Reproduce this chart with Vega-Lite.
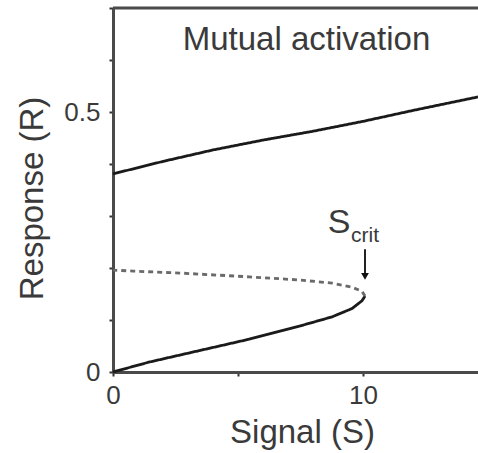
{
  "$schema": "https://vega.github.io/schema/vega-lite/v6.json",
  "width": 365,
  "height": 364,
  "autosize": {"type": "none"},
  "padding": {"left": 113, "top": 8, "right": 0, "bottom": 81},
  "background": "white",
  "config": {
    "view": {"stroke": null},
    "font": "Liberation Sans",
    "axis": {
      "grid": false,
      "domainColor": "#4a4a4a",
      "domainWidth": 3,
      "tickColor": "#333333",
      "tickSize": 4,
      "tickWidth": 2,
      "labelFont": "Liberation Sans",
      "labelFontSize": 26,
      "labelColor": "#3a3a3a",
      "titleFont": "Liberation Sans",
      "titleFontSize": 33,
      "titleFontWeight": "normal",
      "titleColor": "#3a3a3a"
    }
  },
  "datasets": {
    "curves": [
      {"branch": "lower", "style": "solid", "i": 0, "S": 0, "R": 0},
      {"branch": "lower", "style": "solid", "i": 1, "S": 1.44, "R": 0.019},
      {"branch": "lower", "style": "solid", "i": 2, "S": 3.44, "R": 0.041},
      {"branch": "lower", "style": "solid", "i": 3, "S": 5.44, "R": 0.063},
      {"branch": "lower", "style": "solid", "i": 4, "S": 7.44, "R": 0.088},
      {"branch": "lower", "style": "solid", "i": 5, "S": 8.76, "R": 0.106},
      {"branch": "lower", "style": "solid", "i": 6, "S": 9.56, "R": 0.122},
      {"branch": "lower", "style": "solid", "i": 7, "S": 9.96, "R": 0.137},
      {"branch": "lower", "style": "solid", "i": 8, "S": 10.08, "R": 0.146},
      {"branch": "unstable", "style": "dashed", "i": 0, "S": 10.08, "R": 0.146},
      {"branch": "unstable", "style": "dashed", "i": 1, "S": 9.96, "R": 0.155},
      {"branch": "unstable", "style": "dashed", "i": 2, "S": 9.56, "R": 0.163},
      {"branch": "unstable", "style": "dashed", "i": 3, "S": 8.76, "R": 0.171},
      {"branch": "unstable", "style": "dashed", "i": 4, "S": 7.44, "R": 0.177},
      {"branch": "unstable", "style": "dashed", "i": 5, "S": 5.44, "R": 0.183},
      {"branch": "unstable", "style": "dashed", "i": 6, "S": 2.8, "R": 0.19},
      {"branch": "unstable", "style": "dashed", "i": 7, "S": 0.8, "R": 0.194},
      {"branch": "unstable", "style": "dashed", "i": 8, "S": 0, "R": 0.196},
      {"branch": "upper", "style": "solid", "i": 0, "S": 0, "R": 0.381},
      {"branch": "upper", "style": "solid", "i": 1, "S": 2, "R": 0.405},
      {"branch": "upper", "style": "solid", "i": 2, "S": 4, "R": 0.427},
      {"branch": "upper", "style": "solid", "i": 3, "S": 6, "R": 0.446},
      {"branch": "upper", "style": "solid", "i": 4, "S": 8, "R": 0.463},
      {"branch": "upper", "style": "solid", "i": 5, "S": 10, "R": 0.482},
      {"branch": "upper", "style": "solid", "i": 6, "S": 12, "R": 0.503},
      {"branch": "upper", "style": "solid", "i": 7, "S": 14, "R": 0.523},
      {"branch": "upper", "style": "solid", "i": 8, "S": 14.6, "R": 0.529}
    ]
  },
  "layer": [
    {
      "data": {"name": "curves"},
      "mark": {"type": "line", "strokeWidth": 2.8},
      "encoding": {
        "x": {
          "field": "S", "type": "quantitative",
          "scale": {"domain": [0, 14.6], "nice": false, "zero": false},
          "axis": {
            "title": "Signal (S)",
            "values": [0, 5, 10],
            "labelExpr": "datum.value == 5 ? '' : datum.label",
            "labelFlush": false,
            "labelPadding": 6,
            "titlePadding": 8,
            "titleX": 189
          }
        },
        "y": {
          "field": "R", "type": "quantitative",
          "scale": {"domain": [0, 0.7], "nice": false},
          "axis": {
            "title": "Response (R)",
            "values": [0, 0.1, 0.2, 0.3, 0.4, 0.5, 0.6, 0.7],
            "format": ".1~f",
            "labelExpr": "(datum.value == 0 || datum.value == 0.5) ? datum.label : ''",
            "labelFlush": false,
            "labelPadding": 9,
            "titlePadding": 14,
            "titleY": 190
          }
        },
        "detail": {"field": "branch"},
        "order": {"field": "i", "type": "quantitative"},
        "strokeDash": {
          "field": "style", "type": "nominal",
          "scale": {"domain": ["solid", "dashed"], "range": [[1, 0], [5, 4]]},
          "legend": null
        },
        "color": {
          "field": "style", "type": "nominal",
          "scale": {"domain": ["solid", "dashed"], "range": ["#1a1a1a", "#6a6a6a"]},
          "legend": null
        }
      }
    },
    {
      "data": {"values": [{"R": 0.7}]},
      "mark": {"type": "rule", "color": "#4a4a4a", "strokeWidth": 3},
      "encoding": {"y": {"field": "R", "type": "quantitative"}}
    },
    {
      "data": {"values": [{"label": "Mutual activation", "S": 7.74, "R": 0.638}]},
      "mark": {"type": "text", "fontSize": 33, "color": "#3a3a3a", "align": "center", "baseline": "middle"},
      "encoding": {
        "x": {"field": "S", "type": "quantitative"},
        "y": {"field": "R", "type": "quantitative"},
        "text": {"field": "label"}
      }
    },
    {
      "data": {"values": [{"label": "S", "S": 9.04, "R": 0.267}]},
      "mark": {"type": "text", "fontSize": 34, "color": "#3a3a3a", "align": "center", "baseline": "alphabetic"},
      "encoding": {
        "x": {"field": "S", "type": "quantitative"},
        "y": {"field": "R", "type": "quantitative"},
        "text": {"field": "label"}
      }
    },
    {
      "data": {"values": [{"label": "crit", "S": 9.52, "R": 0.25}]},
      "mark": {"type": "text", "fontSize": 21, "color": "#3a3a3a", "align": "left", "baseline": "alphabetic"},
      "encoding": {
        "x": {"field": "S", "type": "quantitative"},
        "y": {"field": "R", "type": "quantitative"},
        "text": {"field": "label"}
      }
    },
    {
      "data": {"values": [{"S": 10.08, "R": 0.236, "R2": 0.19}]},
      "mark": {"type": "rule", "color": "#222222", "strokeWidth": 2},
      "encoding": {
        "x": {"field": "S", "type": "quantitative"},
        "y": {"field": "R", "type": "quantitative"},
        "y2": {"field": "R2"}
      }
    },
    {
      "data": {"values": [{"S": 10.08, "R": 0.184}]},
      "mark": {"type": "point", "shape": "triangle-down", "filled": true, "size": 60, "color": "#111111", "opacity": 1},
      "encoding": {
        "x": {"field": "S", "type": "quantitative"},
        "y": {"field": "R", "type": "quantitative"}
      }
    }
  ]
}
